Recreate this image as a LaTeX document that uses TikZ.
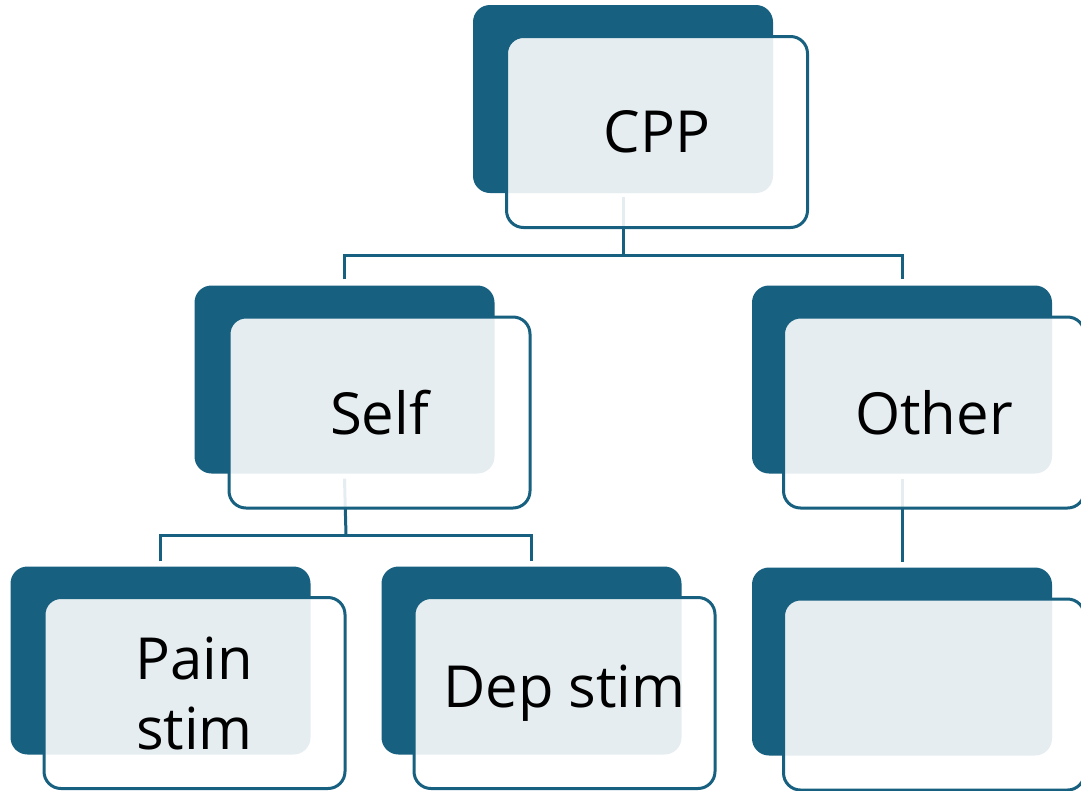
\documentclass[tikz,border=0pt]{standalone}
\usepackage{fontspec}
\setmainfont{Open Sans}
\definecolor{teal}{RGB}{23,96,128}
\tikzset{
  backbox/.style={fill=teal, draw=none, rounded corners=17pt, minimum width=300pt, minimum height=188pt, inner sep=0pt},
  frontbox/.style={fill=white, fill opacity=0.89, text opacity=1, draw=teal, line width=3pt, rounded corners=17pt, minimum width=301pt, minimum height=191pt, inner sep=0pt, align=center, font=\fontsize{58}{70}\selectfont, text=black},
  conn/.style={draw=teal, line width=3pt}
}
\begin{document}
\begin{tikzpicture}[x=1pt,y=-1pt]
\useasboundingbox (0,0) rectangle (1081,790);
% back boxes
\node[backbox] (cppB)   at (623,99) {};
\node[backbox] (selfB)  at (344.5,379.5) {};
\node[backbox] (otherB) at (902,379.5) {};
\node[backbox] (painB)  at (160.5,660.5) {};
\node[backbox] (depB)   at (531.5,660.5) {};
\node[backbox] (emptyB) at (902,661.5) {};
% connectors
\coordinate (j1) at (623,255);
\coordinate (j2) at (346,535);
\draw[conn] ([yshift=-4pt]cppB.south) -- (j1);
\draw[conn] ([yshift=6pt]selfB.north) |- (j1) -| ([yshift=6pt]otherB.north);
\draw[conn] ([yshift=-5pt]selfB.south) -- (j2);
\draw[conn] ([yshift=5pt]painB.north) |- (j2) -| ([yshift=5pt]depB.north);
\draw[conn] ([yshift=-5pt]otherB.south) -- ([yshift=5pt]emptyB.north);
% front boxes
\node[frontbox] (cpp)   at (657,132) {CPP};
\node[frontbox] (self)  at (379.5,412.5) {Self};
\node[frontbox] (other) at (934,412.5) {Other};
\node[frontbox] (pain)  at (194.5,693) {Pain\\stim};
\node[frontbox] (dep)   at (564.5,693) {Dep stim};
\node[frontbox] (empty) at (934,694.5) {};
\end{tikzpicture}
\end{document}
